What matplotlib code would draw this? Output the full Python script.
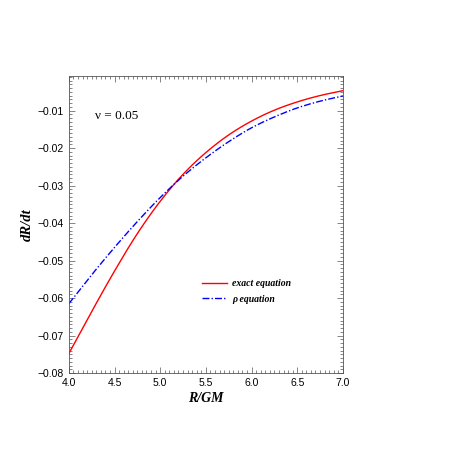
import matplotlib
matplotlib.use("Agg")
import matplotlib.pyplot as plt
from matplotlib.ticker import MultipleLocator
import numpy as np

R = [4.0, 4.25, 4.5, 4.75, 5.0, 5.25, 5.5, 5.75, 6.0, 6.25, 6.5, 6.75, 7.0]
exact = [-0.0748, -0.0636, -0.0528, -0.0428, -0.0342, -0.0270, -0.0212,
         -0.0165, -0.0128, -0.0099, -0.0077, -0.0060, -0.0047]
rho = [-0.0615, -0.0538, -0.0465, -0.0396, -0.0332, -0.0275, -0.0226,
       -0.0183, -0.0146, -0.0117, -0.0093, -0.0075, -0.0061]
xticks = [4.0, 4.5, 5.0, 5.5, 6.0, 6.5, 7.0]
xticklabels = ["4.0", "4.5", "5.0", "5.5", "6.0", "6.5", "7.0"]
yticks = [-0.08, -0.07, -0.06, -0.05, -0.04, -0.03, -0.02, -0.01]
yticklabels = ["\u22120.08", "\u22120.07", "\u22120.06", "\u22120.05",
               "\u22120.04", "\u22120.03", "\u22120.02", "\u22120.01"]


def smooth(x, y, n=200):
    x = np.asarray(x); y = np.asarray(y)
    xs = np.linspace(x[0], x[-1], n)
    h = np.diff(x); d = np.diff(y) / h
    m = np.zeros_like(y)
    for i in range(1, len(y) - 1):
        if d[i-1] * d[i] > 0:
            w1 = 2*h[i] + h[i-1]; w2 = h[i] + 2*h[i-1]
            m[i] = (w1 + w2) / (w1/d[i-1] + w2/d[i])
    m[0] = d[0]; m[-1] = d[-1]
    idx = np.clip(np.searchsorted(x, xs) - 1, 0, len(x) - 2)
    t = (xs - x[idx]) / h[idx]
    h00 = 2*t**3 - 3*t**2 + 1; h10 = t**3 - 2*t**2 + t
    h01 = -2*t**3 + 3*t**2; h11 = t**3 - t**2
    ys = h00*y[idx] + h10*h[idx]*m[idx] + h01*y[idx+1] + h11*h[idx]*m[idx+1]
    return xs, ys


fig = plt.figure(figsize=(4.5, 4.5), dpi=100)
ax = fig.add_axes([0.153, 0.171, 0.609, 0.660])

xs, ys = smooth(R, exact)
ax.plot(xs, ys, color=(1, 0, 0), lw=1.0, label="exact equation")
xs, ys = smooth(R, rho)
ax.plot(xs, ys, color=(0, 0, 1), lw=1.0, dashes=(5, 1.5, 1, 1.5), label="ρ equation")

ax.set_xlim(4.0, 7.0)
ax.set_ylim(-0.08, -0.0008)
ax.xaxis.set_minor_locator(MultipleLocator(0.05))
ax.yaxis.set_minor_locator(MultipleLocator(0.001))
ax.tick_params(which="both", direction="in", top=True, right=True, width=0.5, color="#555555")
ax.tick_params(which="major", length=4)
ax.tick_params(which="minor", length=2)
for s in ax.spines.values():
    s.set_linewidth(0.6)
    s.set_color("#555555")

tickfont = ["Liberation Sans Narrow", "Liberation Sans", "DejaVu Sans"]
ax.set_xticks(xticks)
ax.set_xticklabels(xticklabels)
ax.set_yticks(yticks)
ax.set_yticklabels(yticklabels)
for lab in ax.get_xticklabels() + ax.get_yticklabels():
    lab.set_family(tickfont)
    lab.set_fontsize(7.5)

serif = ["Liberation Serif", "DejaVu Serif"]
ax.set_xlabel("R/GM", family=serif, style="italic", weight="bold", fontsize=10, labelpad=3)
ax.set_ylabel("dR/dt", family=serif, style="italic", weight="bold", fontsize=10.5, labelpad=3)
ax.text(0.095, 0.855, "ν = 0.05", transform=ax.transAxes, family=serif, fontsize=9.5)

leg = ax.legend(loc="upper left", bbox_to_anchor=(0.455, 0.345), frameon=False,
                handlelength=2.5, handletextpad=0.6, labelspacing=0.65,
                prop=dict(family=serif, style="italic", weight="bold", size=7))

fig.savefig("out.png", dpi=100)
